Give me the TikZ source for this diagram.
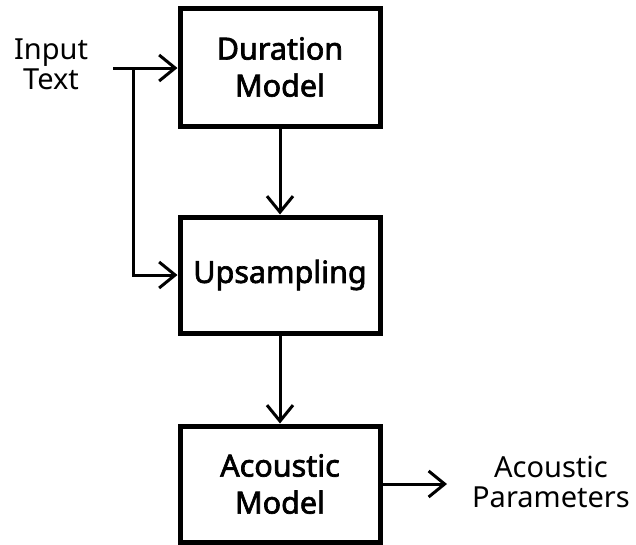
\documentclass[tikz,border=0pt]{standalone}
\usepackage{fontspec}
\setmainfont{Noto Sans}
\newfontfamily\boxfont[FakeBold=2.2]{Noto Sans}
\usetikzlibrary{arrows.meta}
\begin{document}
\begin{tikzpicture}[x=1pt,y=-1pt,
  blk/.style={draw, line width=5pt, minimum width=200pt, minimum height=116pt, align=center, inner sep=0pt,
    font=\boxfont\fontsize{30.5}{37}\selectfont},
  lbl/.style={align=center, inner sep=0pt, font=\fontsize{29}{30}\selectfont},
  conn/.style={line width=3pt, -{Straight Barb[length=16pt,width=26pt,line width=3pt]}}
]
\useasboundingbox (0,0) rectangle (636,544);
\node[blk, minimum height=118pt] (dur) at (280,67) {Duration\\Model};
\node[blk] (ups) at (280,275) {Upsampling};
\node[blk] (aco) at (280,484) {Acoustic\\Model};
\node[lbl] (in) at (51,64) {Input\\Text};
\node[lbl] (out) at (551,482) {Acoustic\\Parameters};
\coordinate (s) at (113,68);
\coordinate (j) at (133,68);
\coordinate (e) at (447,484);
\draw[conn] (s) -- (s -| dur.west);
\draw[conn] (j) |- (ups.west);
\draw[conn] (dur.south) -- (ups.north);
\draw[conn] (ups.south) -- (aco.north);
\draw[conn] (aco.east) -- (e);
\end{tikzpicture}
\end{document}
